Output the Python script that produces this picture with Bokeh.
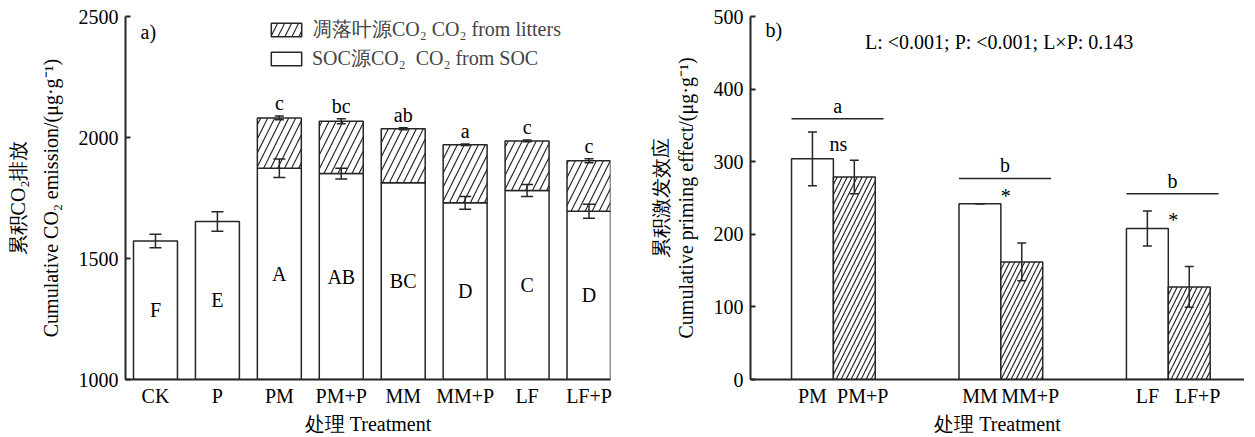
from bokeh.plotting import figure
from bokeh.models import (Range1d, FixedTicker, LinearAxis, Whisker, TeeHead,
                          ColumnDataSource, Legend, LegendItem)
from bokeh.layouts import row
from bokeh.embed import file_html
from bokeh.resources import INLINE
from bokeh.core.properties import value

FONT = "Liberation Serif"
INK = "#262626"
FS = "20px"

# ---------------- data: panel a ----------------
treatments = ["CK", "P", "PM", "PM+P", "MM", "MM+P", "LF", "LF+P"]
soc_co2 = [1572, 1653, 1873, 1851, 1813, 1730, 1781, 1695]
soc_err = [28, 40, 38, 22, 0, 26, 25, 29]
litter_co2 = [0, 0, 208, 216, 223, 240, 205, 209]
total_err = [0, 0, 8, 10, 4, 3, 4, 8]
total_letters = ["", "", "c", "bc", "ab", "a", "c", "c"]
soc_letters = ["F", "E", "A", "AB", "BC", "D", "C", "D"]

# ---------------- data: panel b ----------------
pe_labels = ["PM", "PM+P", "MM", "MM+P", "LF", "LF+P"]
pe_no_p = [304, 242, 208]
pe_no_p_err = [37, 0, 24]
pe_with_p = [279, 162, 127.5]
pe_with_p_err = [23, 26, 28]
group_letters = ["a", "b", "b"]
group_line_y = [359, 277, 256]
sig_marks = ["ns", "*", "*"]
sig_y = [325, 253, 220]
stats_text = "L: <0.001; P: <0.001; L×P: 0.143"


def style_common(p):
    p.xgrid.visible = False
    p.ygrid.visible = False
    p.outline_line_color = None
    p.background_fill_color = "white"
    p.border_fill_color = "white"
    for ax in p.xaxis + p.yaxis:
        ax.axis_line_color = INK
        ax.axis_line_width = 2
        ax.major_tick_line_color = INK
        ax.major_tick_line_width = 2
        ax.minor_tick_line_color = None
        ax.major_label_text_font = FONT
        ax.major_label_text_font_size = FS
        ax.major_label_text_color = "black"
        ax.axis_label_text_font = FONT
        ax.axis_label_text_font_size = FS
        ax.axis_label_text_font_style = "normal"
        ax.axis_label_text_color = "black"


def add_second_ylabel(p, text, standoff):
    ax = LinearAxis(ticker=FixedTicker(ticks=[]), axis_label=text)
    ax.axis_line_color = None
    ax.major_tick_line_color = None
    ax.minor_tick_line_color = None
    ax.axis_label_text_font = FONT
    ax.axis_label_text_font_size = FS
    ax.axis_label_text_font_style = "normal"
    ax.axis_label_text_color = "black"
    ax.axis_label_standoff = standoff
    p.add_layout(ax, "left")


def whisker(src, size):
    return Whisker(base="x", upper="up", lower="lo", source=src,
                   line_color=INK, line_width=1.5, level="annotation",
                   upper_head=TeeHead(size=size, line_color=INK, line_width=1.5),
                   lower_head=TeeHead(size=size, line_color=INK, line_width=1.5))


# ================= panel a =================
n = len(treatments)
xs = list(range(n))
ybase = 1000
p1 = figure(frame_width=485, frame_height=363, x_range=Range1d(-0.484, 7.347),
            y_range=Range1d(ybase, 2500), output_backend="svg",
            toolbar_location=None, min_border_left=125, min_border_right=32,
            min_border_top=16, min_border_bottom=50)

soc_src = ColumnDataSource(dict(x=xs, top=soc_co2,
                                mid=[(ybase + s) / 2 for s in soc_co2],
                                lab=soc_letters))
r_soc = p1.vbar(x="x", bottom=ybase, top="top", width=0.71, source=soc_src,
                fill_color="white", line_color=INK, line_width=1.5)

lit_idx = [i for i in xs if litter_co2[i] > 0]
lit_src = ColumnDataSource(dict(
    x=lit_idx,
    bottom=[soc_co2[i] for i in lit_idx],
    top=[soc_co2[i] + litter_co2[i] for i in lit_idx],
))
r_lit = p1.vbar(x="x", bottom="bottom", top="top", width=0.71, source=lit_src,
                fill_color="white", line_color=INK, line_width=1.5,
                hatch_pattern="/", hatch_color=INK, hatch_scale=14,
                hatch_weight=1.2)

se_idx = [i for i in xs if soc_err[i] > 0]
se_src = ColumnDataSource(dict(
    x=se_idx,
    up=[soc_co2[i] + soc_err[i] for i in se_idx],
    lo=[soc_co2[i] - soc_err[i] for i in se_idx],
))
p1.add_layout(whisker(se_src, 12))

te_src = ColumnDataSource(dict(
    x=lit_idx,
    up=[soc_co2[i] + litter_co2[i] + total_err[i] for i in lit_idx],
    lo=[soc_co2[i] + litter_co2[i] - total_err[i] for i in lit_idx],
    lab=[total_letters[i] for i in lit_idx],
))
p1.add_layout(whisker(te_src, 9))

p1.text(x="x", y="up", text="lab", source=te_src, text_font=value(FONT),
        text_font_size=value(FS), text_align="center",
        text_baseline="alphabetic", y_offset=-13, text_color="black")
p1.text(x="x", y="mid", text="lab", source=soc_src, text_font=value(FONT),
        text_font_size=value(FS), text_align="center",
        text_baseline="middle", text_color="black")
p1.text(x=[-0.24], y=[2434], text=["a)"], text_font=value(FONT),
        text_font_size=value(FS), text_align="left", text_baseline="middle",
        text_color="black")

legend = Legend(items=[
    LegendItem(label="凋落叶源CO₂ CO₂ from litters", renderers=[r_lit]),
    LegendItem(label="SOC源CO₂  CO₂ from SOC", renderers=[r_soc]),
], location=(142, 307), glyph_width=38, glyph_height=17,
    label_text_font=FONT, label_text_font_size=FS, label_height=17,
    padding=0, margin=0, spacing=2, label_standoff=7,
    border_line_color=None, background_fill_alpha=0)
p1.add_layout(legend)

p1.xaxis.ticker = FixedTicker(ticks=xs)
p1.xaxis.major_label_overrides = {i: t for i, t in enumerate(treatments)}
p1.xaxis.major_tick_in = 0
p1.xaxis.major_tick_out = 0
p1.xaxis.axis_label = "处理 Treatment"
p1.xaxis.axis_label_standoff = 3
p1.yaxis.ticker = FixedTicker(ticks=[1000, 1500, 2000, 2500])
p1.yaxis.major_tick_in = 5
p1.yaxis.major_tick_out = 0
p1.yaxis.major_label_standoff = 7
p1.yaxis.axis_label = "Cumulative CO₂ emission/(μg·g⁻¹)"
p1.yaxis.axis_label_standoff = 14
style_common(p1)
add_second_ylabel(p1, "累积CO₂排放", 8)

# ================= panel b =================
g = len(pe_no_p)
centers = [4 * k + 0.5 for k in range(g)]
p2 = figure(frame_width=494, frame_height=363, x_range=Range1d(-1.48, 10.32),
            y_range=Range1d(0, 500), output_backend="svg",
            toolbar_location=None, min_border_left=108, min_border_right=0,
            min_border_top=16, min_border_bottom=50)

a_src = ColumnDataSource(dict(x=[c - 0.5 for c in centers], top=pe_no_p,
                              up=[v + e for v, e in zip(pe_no_p, pe_no_p_err)],
                              lo=[v - e for v, e in zip(pe_no_p, pe_no_p_err)]))
b_src = ColumnDataSource(dict(x=[c + 0.5 for c in centers], top=pe_with_p,
                              up=[v + e for v, e in zip(pe_with_p, pe_with_p_err)],
                              lo=[v - e for v, e in zip(pe_with_p, pe_with_p_err)]))
p2.vbar(x="x", bottom=0, top="top", width=1.0, source=a_src,
        fill_color="white", line_color=INK, line_width=1.5)
p2.vbar(x="x", bottom=0, top="top", width=1.0, source=b_src,
        fill_color="white", line_color=INK, line_width=1.5,
        hatch_pattern="/", hatch_color=INK, hatch_scale=10, hatch_weight=1.2)
p2.add_layout(whisker(a_src, 9))
p2.add_layout(whisker(b_src, 9))

p2.segment(x0=[c - 1.0 for c in centers], x1=[c + 1.2 for c in centers],
           y0=group_line_y, y1=group_line_y, line_color=INK, line_width=1.5)
p2.text(x=[c + 0.1 for c in centers], y=group_line_y, text=group_letters,
        text_font=value(FONT), text_font_size=value(FS), text_align="center",
        text_baseline="alphabetic", y_offset=-13, text_color="black")
p2.text(x=[c + 0.12 for c in centers], y=sig_y, text=sig_marks,
        text_font=value(FONT), text_font_size=value(FS), text_align="center",
        text_baseline="middle", text_color="black")
p2.text(x=[centers[1] - 0.04], y=[465], text=[stats_text], text_font=value(FONT),
        text_font_size=value(FS), text_align="center", text_baseline="middle",
        text_color="black")
p2.text(x=[-1.12], y=[482], text=["b)"], text_font=value(FONT),
        text_font_size=value(FS), text_align="left", text_baseline="middle",
        text_color="black")

ticks_b = []
for c in centers:
    ticks_b += [round(c - 0.5, 3), round(c + 0.7, 3)]
p2.xaxis.ticker = FixedTicker(ticks=ticks_b)
p2.xaxis.major_label_overrides = {t: lab for t, lab in zip(ticks_b, pe_labels)}
p2.xaxis.major_tick_in = 0
p2.xaxis.major_tick_out = 0
p2.xaxis.axis_label = "处理 Treatment"
p2.xaxis.axis_label_standoff = 3
p2.yaxis.ticker = FixedTicker(ticks=[0, 100, 200, 300, 400, 500])
p2.yaxis.major_tick_in = 5
p2.yaxis.major_tick_out = 0
p2.yaxis.major_label_standoff = 7
p2.yaxis.axis_label = "Cumulative priming effect/(μg·g⁻¹)"
p2.yaxis.axis_label_standoff = 14
style_common(p2)
add_second_ylabel(p2, "累积激发效应", 0)

layout = row(p1, p2)
open("out.html", "w").write(file_html(layout, INLINE))
